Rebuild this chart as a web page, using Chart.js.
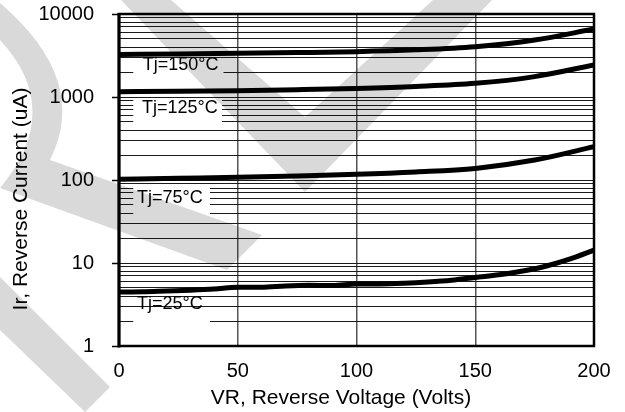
<!DOCTYPE html>
<html><head><meta charset="utf-8">
<script src="https://cdn.jsdelivr.net/npm/chart.js@4/dist/chart.umd.min.js"></script>
<style>
html,body{margin:0;padding:0;background:#fff;}
#wrap{position:relative;width:625px;height:412px;background:#fff;}
#c{position:absolute;left:0;top:0;}
#wm{position:absolute;left:0;top:0;mix-blend-mode:multiply;pointer-events:none;}
</style></head><body>
<div id="wrap">
<canvas id="c" width="625" height="412"></canvas>
<svg id="wm" width="625" height="412" viewBox="0 0 625 412">
  <g fill="#d9d9d9">
    <path d="M121,0 L305,192 L492,0 L433,0 L305,117 L171,0 Z"/>
    <path d="M0,3 Q90,80 50,160 L262,235 L227,270 L0,188 Q65,110 0,40 Z"/>
    <path d="M0,277 L110,387 L85,412 L0,330 Z"/>
  </g>
</svg>
</div>
<script>
// ---- data ----
const voltage25 = [0,10,20,30,40,50,60,70,80,90,100,110,120,130,140,150,160,170,180,190,200];
const ir25 = [4.47,4.5,4.6,4.7,4.85,5.1,5.1,5.3,5.4,5.35,5.6,5.6,5.7,5.9,6.2,6.7,7.2,8.0,9.2,11.2,14.3];
const voltage = [0,25,50,75,100,125,150,175,200];
const ir75  = [102,105,108,112,117,125,138,174,252];
const ir125 = [1160,1170,1190,1225,1270,1340,1460,1760,2430];
const ir150 = [3250,3300,3360,3430,3520,3700,4040,4860,6590];
const xTickValues = [0,50,100,150,200];
const yMajorTicks = [1,10,100,1000,10000];
const seriesNames = ['Tj=25°C','Tj=75°C','Tj=125°C','Tj=150°C'];
const xTitle = 'VR, Reverse Voltage (Volts)';
const yTitle = 'Ir, Reverse Current (uA)';

// label annotations in data units: text anchor (x,y), white box [x0,x1,yTop,yBottom]
const annotations = [
  {text: seriesNames[3], x: 10,  y: 2400, box: [6, 44, 2900, 1700]},
  {text: seriesNames[2], x: 9.7, y: 731,  box: [6, 43.4, 965, 445]},
  {text: seriesNames[1], x: 7.6, y: 60.8, box: [6, 38.3, 88, 35.9]},
  {text: seriesNames[0], x: 7.6, y: 3.16, box: [6, 38.3, 2.6, 1.37]}
];

const pts = (xs, ys) => xs.map((x, i) => ({x, y: ys[i]}));
const FONT = "'Liberation Sans', Arial, sans-serif";

const decor = {
  id: 'decor',
  beforeDatasetsDraw(chart) {
    const {ctx, scales: {x, y}} = chart;
    ctx.save();
    ctx.fillStyle = '#fff';
    annotations.forEach(a => {
      const x0 = x.getPixelForValue(a.box[0]), x1 = x.getPixelForValue(a.box[1]);
      const y0 = y.getPixelForValue(a.box[2]), y1 = y.getPixelForValue(a.box[3]);
      ctx.fillRect(x0, y0, x1 - x0, y1 - y0);
    });
    ctx.restore();
  },
  afterDatasetsDraw(chart) {
    const {ctx, chartArea: ca, scales: {x, y}} = chart;
    ctx.save();
    ctx.fillStyle = '#000';
    ctx.font = '18px ' + FONT;
    ctx.textAlign = 'left';
    ctx.textBaseline = 'middle';
    annotations.forEach(a => {
      ctx.fillText(a.text, x.getPixelForValue(a.x), y.getPixelForValue(a.y));
    });
    // frame
    ctx.strokeStyle = '#000';
    ctx.lineWidth = 2.5;
    ctx.strokeRect(ca.left, ca.top, ca.right - ca.left, ca.bottom - ca.top);
    ctx.lineWidth = 3;
    ctx.beginPath(); ctx.moveTo(ca.left, ca.top - 1); ctx.lineTo(ca.left, ca.bottom + 1.5); ctx.stroke();
    // axis titles
    ctx.font = '21px ' + FONT;
    ctx.textAlign = 'center';
    ctx.textBaseline = 'middle';
    ctx.fillText(xTitle, ca.left + 222, ca.bottom + 52);
    ctx.translate(21, ca.top + 185);
    ctx.rotate(-Math.PI / 2);
    ctx.fillText(yTitle, 0, 0);
    ctx.restore();
  }
};

const lineDS = (label, data) => ({
  label, data, borderColor: '#000', borderWidth: 5, pointRadius: 0,
  fill: false, showLine: true, cubicInterpolationMode: 'monotone'
});

new Chart(document.getElementById('c'), {
  type: 'scatter',
  data: {
    datasets: [
      lineDS(seriesNames[0], pts(voltage25, ir25)),
      lineDS(seriesNames[1], pts(voltage, ir75)),
      lineDS(seriesNames[2], pts(voltage, ir125)),
      lineDS(seriesNames[3], pts(voltage, ir150))
    ]
  },
  options: {
    responsive: false, animation: false, devicePixelRatio: 1,
    layout: {padding: {top: 14, right: 31, left: 0, bottom: 0}},
    plugins: {legend: {display: false}, tooltip: {enabled: false}},
    scales: {
      x: {
        type: 'linear', min: 0, max: 200,
        afterBuildTicks: s => { s.ticks = xTickValues.map(v => ({value: v})); },
        afterFit: s => { s.height = 66; s.paddingLeft = 0; s.paddingRight = 0; },
        grid: {color: '#555', lineWidth: 1.5, drawTicks: false},
        border: {display: false},
        ticks: {color: '#000', font: {size: 20, family: FONT}, padding: 13, maxRotation: 0, autoSkip: false}
      },
      y: {
        type: 'logarithmic', min: 1, max: 10000,
        afterBuildTicks: s => {
          const t = [];
          for (let e = 0; e < 4; e++) for (let m = 1; m <= 9; m++) t.push({value: m * Math.pow(10, e)});
          t.push({value: 10000});
          s.ticks = t;
        },
        afterFit: s => { s.width = 119; s.paddingTop = 0; s.paddingBottom = 0; },
        grid: {
          color: '#1a1a1a', lineWidth: 1, tickLength: 7,
          tickColor: c => yMajorTicks.includes(c.tick && c.tick.value) ? '#000' : 'rgba(0,0,0,0)',
          tickWidth: 1.5
        },
        border: {display: false},
        ticks: {
          color: '#000', font: {size: 20, family: FONT}, padding: 18, autoSkip: false,
          callback: v => yMajorTicks.includes(v) ? String(v) : ''
        }
      }
    }
  },
  plugins: [decor]
});
</script>
</body></html>
